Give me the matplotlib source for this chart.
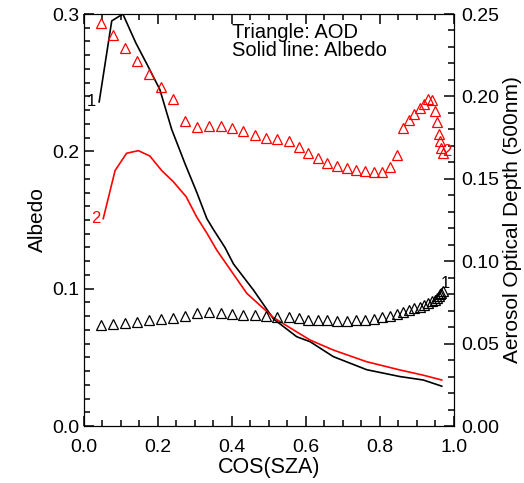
import matplotlib
matplotlib.use("Agg")
import matplotlib.pyplot as plt
from matplotlib.ticker import MultipleLocator, FormatStrFormatter

plt.rcParams['font.family'] = ['Liberation Sans', 'DejaVu Sans']
plt.rcParams.update({
    'xtick.direction': 'in', 'ytick.direction': 'in',
    'xtick.top': True, 'xtick.bottom': True,
    'xtick.major.size': 7, 'xtick.minor.size': 4,
    'ytick.major.size': 7, 'ytick.minor.size': 4,
    'xtick.major.width': 1.1, 'xtick.minor.width': 1.1,
    'ytick.major.width': 1.1, 'ytick.minor.width': 1.1,
    'xtick.color': 'black', 'ytick.color': 'black',
})

# Albedo (solid lines, left axis)
alb1_x = [0.041, 0.075, 0.105, 0.14, 0.171, 0.205, 0.237, 0.273, 0.305, 0.332, 0.35,
          0.381, 0.404, 0.458, 0.512, 0.575, 0.611, 0.674, 0.764, 0.854, 0.917, 0.967]
alb1_y = [0.236, 0.295, 0.300, 0.279, 0.263, 0.245, 0.216, 0.191, 0.170, 0.151, 0.143,
          0.130, 0.118, 0.099, 0.078, 0.065, 0.0614, 0.0505, 0.041, 0.036, 0.0335, 0.029]

alb2_x = [0.052, 0.084, 0.115, 0.147, 0.178, 0.21, 0.241, 0.276, 0.305, 0.332, 0.359,
          0.377, 0.44, 0.512, 0.566, 0.611, 0.674, 0.764, 0.854, 0.917, 0.967]
alb2_y = [0.151, 0.186, 0.1986, 0.2005, 0.1966, 0.186, 0.178, 0.167, 0.152, 0.1405, 0.128,
          0.121, 0.0966, 0.079, 0.070, 0.0626, 0.0553, 0.0468, 0.0408, 0.037, 0.0335]

# AOD (triangles, right axis)
aod_x = [0.046, 0.078, 0.11, 0.143, 0.175, 0.208, 0.24, 0.272, 0.305, 0.337, 0.369,
         0.401, 0.431, 0.462, 0.492, 0.522, 0.553, 0.582, 0.606, 0.632, 0.658, 0.684,
         0.71, 0.735, 0.76, 0.784, 0.806, 0.826, 0.846, 0.862, 0.878, 0.893, 0.907,
         0.92, 0.93, 0.94, 0.949, 0.954, 0.959, 0.963, 0.966, 0.969]
aod1 = [0.0613, 0.0619, 0.0625, 0.0633, 0.0641, 0.0649, 0.0655, 0.0667, 0.0684, 0.069, 0.0688,
        0.0681, 0.0675, 0.0672, 0.0667, 0.0663, 0.066, 0.0654, 0.0645, 0.0643, 0.0641, 0.064,
        0.064, 0.0641, 0.0643, 0.0652, 0.0663, 0.067, 0.068, 0.0694, 0.0703, 0.0715, 0.0725,
        0.0737, 0.0747, 0.0757, 0.0767, 0.0777, 0.0789, 0.0799, 0.081, 0.082]
aod2 = [0.2447, 0.2373, 0.2292, 0.2215, 0.2136, 0.2059, 0.1984, 0.1851, 0.1816, 0.182, 0.1822,
        0.181, 0.1792, 0.1766, 0.1746, 0.174, 0.1731, 0.1695, 0.1658, 0.1628, 0.1594, 0.1578,
        0.1564, 0.1553, 0.1547, 0.1543, 0.1543, 0.1573, 0.1644, 0.1806, 0.1857, 0.1891, 0.1928,
        0.1952, 0.1984, 0.1978, 0.1911, 0.1846, 0.177, 0.1729, 0.1689, 0.1655]

fig = plt.figure(figsize=(5.24, 4.83), dpi=100)
ax = fig.add_axes([0.1603, 0.118, 0.7061, 0.853])
ax2 = ax.twinx()

ax.set_xlim(0, 1)
ax.set_ylim(0, 0.3)
ax.xaxis.set_major_locator(MultipleLocator(0.2))
ax.xaxis.set_minor_locator(MultipleLocator(0.05))
ax.yaxis.set_major_locator(MultipleLocator(0.1))
ax.yaxis.set_minor_locator(MultipleLocator(0.01))
ax.xaxis.set_major_formatter(FormatStrFormatter('%.1f'))
ax.yaxis.set_major_formatter(FormatStrFormatter('%.1f'))
ax.tick_params(axis='x', which='both', top=True, bottom=True, labelsize=14, pad=9)
ax.tick_params(axis='y', which='both', left=True, right=False, labelsize=14, pad=3)

ax2.set_ylim(0, 0.25)
ax2.yaxis.set_major_locator(MultipleLocator(0.05))
ax2.yaxis.set_minor_locator(MultipleLocator(0.01))
ax2.yaxis.set_major_formatter(FormatStrFormatter('%.2f'))
ax2.tick_params(axis='y', which='both', right=True, left=False, labelsize=14, pad=5)

ax.plot(alb1_x, alb1_y, color='black', lw=1.2)
ax.plot(alb2_x, alb2_y, color='red', lw=1.2)
ax2.plot(aod_x, aod1, ls='none', marker='^', ms=6.5, mfc='none', mec='black', mew=0.9)
ax2.plot(aod_x, aod2, ls='none', marker='^', ms=6.5, mfc='none', mec='red', mew=0.9)

# series labels
ax.annotate('1', (alb1_x[0], alb1_y[0]), xytext=(-2, 0), textcoords='offset points',
            ha='right', va='center', fontsize=12, color='black')
ax.annotate('2', (alb2_x[0], alb2_y[0]), xytext=(-2, 0), textcoords='offset points',
            ha='right', va='center', fontsize=12, color='red')
ax2.annotate('1', (aod_x[-1], aod1[-1]), xytext=(-1, 0), textcoords='offset points',
             ha='left', va='bottom', fontsize=12, color='black')
ax2.annotate('2', (aod_x[-1], aod2[-1]), xytext=(0, -4), textcoords='offset points',
             ha='left', va='bottom', fontsize=12, color='red')

ax.text(0.4, 0.978, 'Triangle: AOD', transform=ax.transAxes, fontsize=14.5, va='top')
ax.text(0.4, 0.934, 'Solid line: Albedo', transform=ax.transAxes, fontsize=14.5, va='top')

ax.set_xlabel('COS(SZA)', fontsize=15.5, labelpad=1)
ax.set_ylabel('Albedo', fontsize=15, labelpad=4)
ax2.set_ylabel('Aerosol Optical Depth (500nm)', fontsize=15, labelpad=3)

fig.savefig('out.png', dpi=100)
